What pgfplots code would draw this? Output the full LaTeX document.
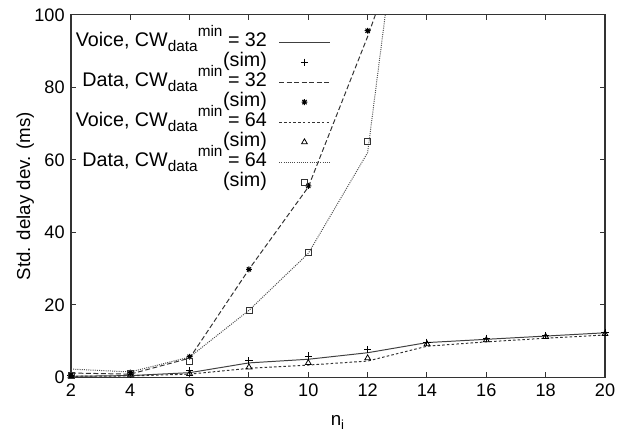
\documentclass[border=0pt]{standalone}
\usepackage{pgfplots}
\pgfplotsset{compat=1.18}
\usepackage{fontspec}
\setmainfont{Liberation Sans}
\pgfdeclareplotmark{plusx}{%
  \pgfpathmoveto{\pgfqpoint{\pgfplotmarksize}{0pt}}%
  \pgfpathlineto{\pgfqpoint{-\pgfplotmarksize}{0pt}}%
  \pgfpathmoveto{\pgfqpoint{0pt}{\pgfplotmarksize}}%
  \pgfpathlineto{\pgfqpoint{0pt}{-\pgfplotmarksize}}%
  \pgfpathmoveto{\pgfqpoint{0.707\pgfplotmarksize}{0.707\pgfplotmarksize}}%
  \pgfpathlineto{\pgfqpoint{-0.707\pgfplotmarksize}{-0.707\pgfplotmarksize}}%
  \pgfpathmoveto{\pgfqpoint{-0.707\pgfplotmarksize}{0.707\pgfplotmarksize}}%
  \pgfpathlineto{\pgfqpoint{0.707\pgfplotmarksize}{-0.707\pgfplotmarksize}}%
  \pgfusepathqstroke}
\newcommand{\cw}{CW\raisebox{-0.28em}{\fontsize{7.8}{8}\selectfont data}\raisebox{0.5em}{\fontsize{7.8}{8}\selectfont min}}
\begin{document}
\fontsize{9}{10}\selectfont
\begin{tikzpicture}
\begin{axis}[
  scale only axis,
  width=271pt, height=184pt,
  at={(0,0)}, anchor=south west,
  xmin=2, xmax=20, ymin=0, ymax=100,
  xtick={2,4,...,20}, ytick={0,20,...,100},
  tick align=inside,
  major tick length=2.5pt,
  /pgf/number format/assume math mode=true,
  ticklabel style={font=\fontsize{9.2}{10}\selectfont},
  label style={font=\fontsize{9.5}{10}\selectfont},
  xlabel={n\textsubscript{i}},
  ylabel={Std. delay dev. (ms)},
  xlabel style={yshift=-3.5pt},
  ylabel style={yshift=-6pt},
  axis line style={line width=0.6pt, black!80},
  every tick/.style={black!80, line width=0.5pt},
  legend cell align=right,
  legend plot pos=right,
  legend style={draw=none, fill=none, at={(axis cs:10.95,96.1)}, anchor=north east,
    font=\fontsize{10}{10}\selectfont,
    nodes={inner sep=0pt, text height=6.5pt, text depth=2.5pt}, row sep=1.15pt, column sep=6pt},
  every axis plot/.append style={legend image code/.code={\draw[mark repeat=2,mark phase=2,#1] plot coordinates {(0cm,0cm) (0.45cm,0cm) (0.9cm,0cm)};}},
  mark size=1.8pt,
]
% Voice CW32 model
\addplot[black!75, line width=0.5pt, solid, no markers] coordinates {
(2,0.3) (4,0.5) (6,1.3) (8,4.0) (10,5.0) (12,6.8) (14,9.6) (16,10.5) (18,11.4) (20,12.3)};
\addlegendentry{Voice, \cw{} = 32}
\addplot[black, only marks, mark=+, mark options={line width=0.5pt}] coordinates {
(2,0.5) (4,0.8) (6,1.8) (8,4.6) (10,5.9) (12,7.7) (14,9.7) (16,10.8) (18,11.6) (20,12.4)};
\addlegendentry{(sim)}
% Data CW32 model
\addplot[black!80, line width=0.5pt, dash pattern=on 2.5pt off 1.3pt, no markers] coordinates {
(2,1.2) (4,0.9) (6,5.3) (8,29.8) (10,52.5) (12,94) (14,140)};
\addlegendentry{Data, \cw{} = 32}
\addplot[black, only marks, mark=plusx, mark size=1.5pt, mark options={line width=0.5pt}] coordinates {
(2,0.6) (4,1.3) (6,5.7) (8,29.8) (10,52.8) (12,95.6)};
\addlegendentry{(sim)}
% Voice CW64 model
\addplot[black!80, line width=0.5pt, dash pattern=on 1.3pt off 1.1pt, no markers] coordinates {
(2,0.3) (4,0.4) (6,0.9) (8,2.5) (10,3.4) (12,4.5) (14,8.6) (16,9.8) (18,10.8) (20,11.7)};
\addlegendentry{Voice, \cw{} = 64}
\addplot[black, only marks, mark=triangle, mark size=1.7pt, mark options={line width=0.4pt}] coordinates {
(2,0.4) (4,0.6) (6,1.0) (8,2.8) (10,4.0) (12,5.3) (14,9.2) (16,10.3) (18,11.2) (20,12.0)};
\addlegendentry{(sim)}
% Data CW64 model
\addplot[black!70, line width=0.5pt, dash pattern=on 0.5pt off 0.6pt, no markers] coordinates {
(2,2.3) (4,1.5) (6,5.6) (8,18.5) (10,34.2) (12,62) (14,190)};
\addlegendentry{Data, \cw{} = 64}
\addplot[black!80, only marks, mark=square, mark size=1.5pt, mark options={line width=0.4pt}] coordinates {
(2,0.5) (4,1.2) (6,4.4) (8,18.5) (10,34.5) (12,65)};
\addlegendentry{(sim)}
\end{axis}
\useasboundingbox (-36pt,-26pt) rectangle (274.5pt,191.5pt);
\end{tikzpicture}
\end{document}
